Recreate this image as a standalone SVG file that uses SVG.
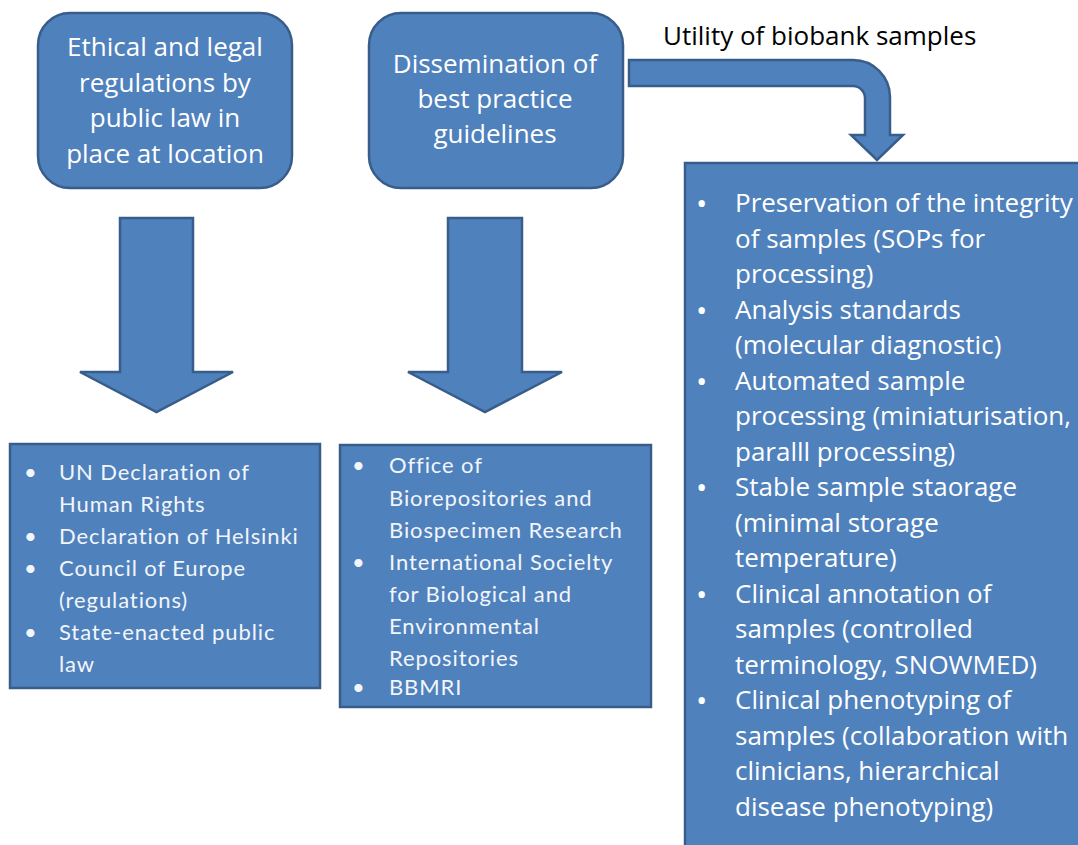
<svg xmlns="http://www.w3.org/2000/svg" width="1078" height="845" viewBox="0 0 1078 845">
  <style>
    .shape { fill: #4F81BD; stroke: #385D8A; stroke-width: 2.5; }
    .head { font-family: "Open Sans", "Liberation Sans", sans-serif; font-size: 26px; fill: #FFFFFF; text-anchor: middle; }
    .list { font-family: Lato, "Liberation Sans", sans-serif; font-size: 22px; fill: #F2F5FA; letter-spacing: 0.9px; }
    .tall { font-family: "Open Sans", "Liberation Sans", sans-serif; font-size: 26px; fill: #FFFFFF; }
    .tall .dot { font-size: 30px; }
    .label { font-family: "Open Sans", "Liberation Sans", sans-serif; font-size: 26px; fill: #000000; }
  </style>
  <rect width="1078" height="845" fill="#FFFFFF"/>

  <!-- top rounded boxes -->
  <g id="node-ethical">
    <rect class="shape" x="38" y="13" width="254" height="175" rx="32"/>
    <text class="head" x="165" y="56">Ethical and legal</text>
    <text class="head" x="165" y="92">regulations by</text>
    <text class="head" x="165" y="127">public law in</text>
    <text class="head" x="165" y="163">place at location</text>
  </g>

  <g id="node-dissemination">
    <rect class="shape" x="369" y="13" width="254" height="175" rx="32"/>
    <text class="head" x="495" y="73">Dissemination of</text>
    <text class="head" x="495" y="108">best practice</text>
    <text class="head" x="495" y="143">guidelines</text>
  </g>

  <g id="node-utility-label">
    <text class="label" x="663" y="45">Utility of biobank samples</text>
  </g>

  <!-- block arrows -->
  <g id="connectors">
    <path class="shape" d="M120,218 H193 V372 H233 L156.5,412 L80,372 H120 Z"/>
    <path class="shape" d="M448,218 H522 V372 H562 L485,412 L408,372 H448 Z"/>
    <path class="shape" d="M629,60 H853 A37,37 0 0 1 890,97 V135 H903 L877,160 L851,135 H865 V98 A12,12 0 0 0 853,86 H629 Z"/>
  </g>

  <!-- lower list boxes -->
  <g id="node-law-list">
    <rect class="shape" x="10" y="444" width="310" height="244"/>
    <g class="list">
      <text x="24" y="480">•</text><text x="59" y="480">UN Declaration of</text>
      <text x="59" y="512">Human Rights</text>
      <text x="24" y="544">•</text><text x="59" y="544">Declaration of Helsinki</text>
      <text x="24" y="576">•</text><text x="59" y="576">Council of Europe</text>
      <text x="59" y="608">(regulations)</text>
      <text x="24" y="640">•</text><text x="59" y="640">State-enacted public</text>
      <text x="59" y="672">law</text>
    </g>
  </g>

  <g id="node-guideline-list">
    <rect class="shape" x="340" y="445" width="311" height="262"/>
    <g class="list">
      <text x="352" y="473">•</text><text x="389" y="473">Office of</text>
      <text x="389" y="506">Biorepositories and</text>
      <text x="389" y="538">Biospecimen Research</text>
      <text x="352" y="570">•</text><text x="389" y="570">International Socielty</text>
      <text x="389" y="602">for Biological and</text>
      <text x="389" y="634">Environmental</text>
      <text x="389" y="666">Repositories</text>
      <text x="352" y="695">•</text><text x="389" y="695">BBMRI</text>
    </g>
  </g>

  <g id="node-utility-list">
    <rect class="shape" x="685" y="163" width="420" height="700"/>
    <g class="tall">
      <text class="dot" x="696" y="214">•</text><text x="735" y="212">Preservation of the integrity</text>
      <text x="735" y="248">of samples (SOPs for</text>
      <text x="735" y="283">processing)</text>
      <text class="dot" x="696" y="321">•</text><text x="735" y="319">Analysis standards</text>
      <text x="735" y="354">(molecular diagnostic)</text>
      <text class="dot" x="696" y="392">•</text><text x="735" y="390">Automated sample</text>
      <text x="735" y="425">processing (miniaturisation,</text>
      <text x="735" y="461">paralll processing)</text>
      <text class="dot" x="696" y="498">•</text><text x="735" y="496">Stable sample staorage</text>
      <text x="735" y="532">(minimal storage</text>
      <text x="735" y="567">temperature)</text>
      <text class="dot" x="696" y="605">•</text><text x="735" y="603">Clinical annotation of</text>
      <text x="735" y="638">samples (controlled</text>
      <text x="735" y="674">terminology, SNOWMED)</text>
      <text class="dot" x="696" y="711">•</text><text x="735" y="709">Clinical phenotyping of</text>
      <text x="735" y="745">samples (collaboration with</text>
      <text x="735" y="780">clinicians, hierarchical</text>
      <text x="735" y="816">disease phenotyping)</text>
    </g>
  </g>
</svg>
